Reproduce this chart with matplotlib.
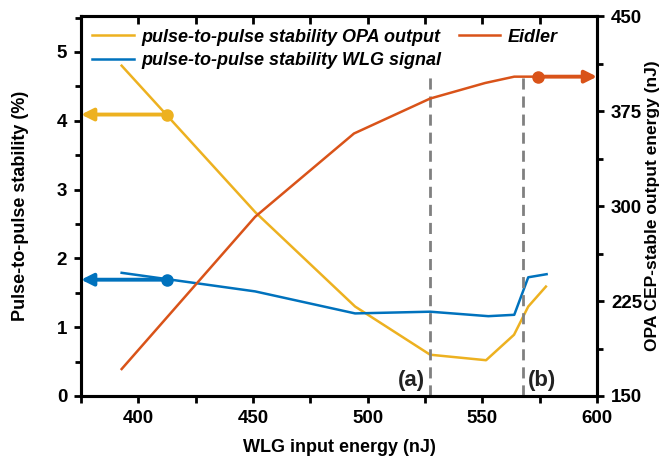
import matplotlib
matplotlib.use('Agg')
import matplotlib.pyplot as plt
from matplotlib.ticker import MultipleLocator

plt.rcParams['font.family'] = ['Liberation Sans', 'DejaVu Sans']
plt.rcParams['font.weight'] = 'bold'

# OPA output stability (%)
opa_x = [392.7, 451.0, 494.5, 527.2, 551.6, 563.8, 570.0, 577.7]
opa_y = [4.80, 2.67, 1.30, 0.60, 0.52, 0.89, 1.30, 1.59]

# WLG signal stability (%)
wlg_x = [392.7, 450.9, 494.5, 527.2, 552.6, 563.9, 570.0, 578.0]
wlg_y = [1.79, 1.52, 1.20, 1.225, 1.16, 1.18, 1.725, 1.77]

# Eidler, OPA CEP-stable output energy (nJ)
eid_x = [392.7, 450.9, 494.0, 527.2, 551.2, 563.9, 574.4]
eid_y = [171.3, 291.5, 357.3, 384.9, 397.2, 402.2, 402.2]

# arrow marker points
opa_mark = (412.4, 4.09)
wlg_mark = (412.4, 1.69)
eid_mark = (574.4, 402.2)

dash_x = [527.2, 567.5]
dash_top = 402.5

c_opa = '#EDB120'
c_wlg = '#0072BD'
c_eid = '#D95319'

fig = plt.figure(figsize=(6.59, 4.61), dpi=100)
ax = fig.add_axes([0.123, 0.141, 0.783, 0.824])
ax2 = ax.twinx()

l1, = ax.plot(opa_x, opa_y, color=c_opa, lw=1.8, zorder=3)
l2, = ax.plot(wlg_x, wlg_y, color=c_wlg, lw=1.8, zorder=3)
l3, = ax2.plot(eid_x, eid_y, color=c_eid, lw=1.8, zorder=3)

ax2.vlines(dash_x, 150, dash_top, colors='#808080', linestyles=(0, (4, 2.5)), lw=2)

# arrows pointing to their axes
for a, pt, col, xend in [(ax, opa_mark, c_opa, 375), (ax, wlg_mark, c_wlg, 375), (ax2, eid_mark, c_eid, 600)]:
    a.plot(pt[0], pt[1], 'o', color=col, ms=8, zorder=4)
    a.annotate('', xy=(xend, pt[1]), xytext=pt,
               arrowprops=dict(arrowstyle='-|>', color=col, lw=2.8, mutation_scale=18,
                               shrinkA=0, shrinkB=0), zorder=4)

ax.set_xlim(375, 600)
ax.set_ylim(0, 5.52)
ax2.set_ylim(150, 450)

ax.xaxis.set_major_locator(MultipleLocator(50))
ax.xaxis.set_minor_locator(MultipleLocator(25))
ax.yaxis.set_major_locator(MultipleLocator(1))
ax.yaxis.set_minor_locator(MultipleLocator(0.5))
ax2.yaxis.set_major_locator(MultipleLocator(75))
ax2.yaxis.set_minor_locator(MultipleLocator(37.5))

for a in (ax, ax2):
    for s in a.spines.values():
        s.set_linewidth(2.2)
ax.tick_params(which='both', direction='out', width=2, labelsize=13.5, pad=5)
ax.tick_params(which='major', length=5)
ax.tick_params(which='minor', length=4)
ax.tick_params(axis='x', which='minor', length=5)
ax2.tick_params(which='both', direction='out', width=2, labelsize=13.5, pad=5)
ax2.tick_params(which='major', length=5)
ax2.tick_params(which='minor', length=4)

# inward ticks along the top
top = ax.secondary_xaxis('top')
top.xaxis.set_major_locator(MultipleLocator(25))
top.tick_params(direction='in', width=2, length=6, labeltop=False)

ax.set_xlabel('WLG input energy (nJ)', fontsize=13, fontweight='bold', labelpad=9)
ax.set_ylabel('Pulse-to-pulse stability (%)', fontsize=13, fontweight='bold', labelpad=20)
ax2.set_ylabel('OPA CEP-stable output energy (nJ)', fontsize=12.5, fontweight='bold', labelpad=2)

ax.text(519, 0.14, '(a)', fontsize=16, fontweight='bold', color='#222222', ha='center')
ax.text(576, 0.14, '(b)', fontsize=16, fontweight='bold', color='#222222', ha='center')

leg = ax.legend([l1, l2, l3],
                ['pulse-to-pulse stability OPA output', 'pulse-to-pulse stability WLG signal', 'Eidler'],
                ncol=2, frameon=False, loc='upper left', bbox_to_anchor=(-0.01, 1.01),
                prop=dict(size=13, weight='bold', style='italic'),
                handlelength=2.3, handletextpad=0.4, columnspacing=1.0, labelspacing=0.35)

fig.savefig('out.png', dpi=100)
